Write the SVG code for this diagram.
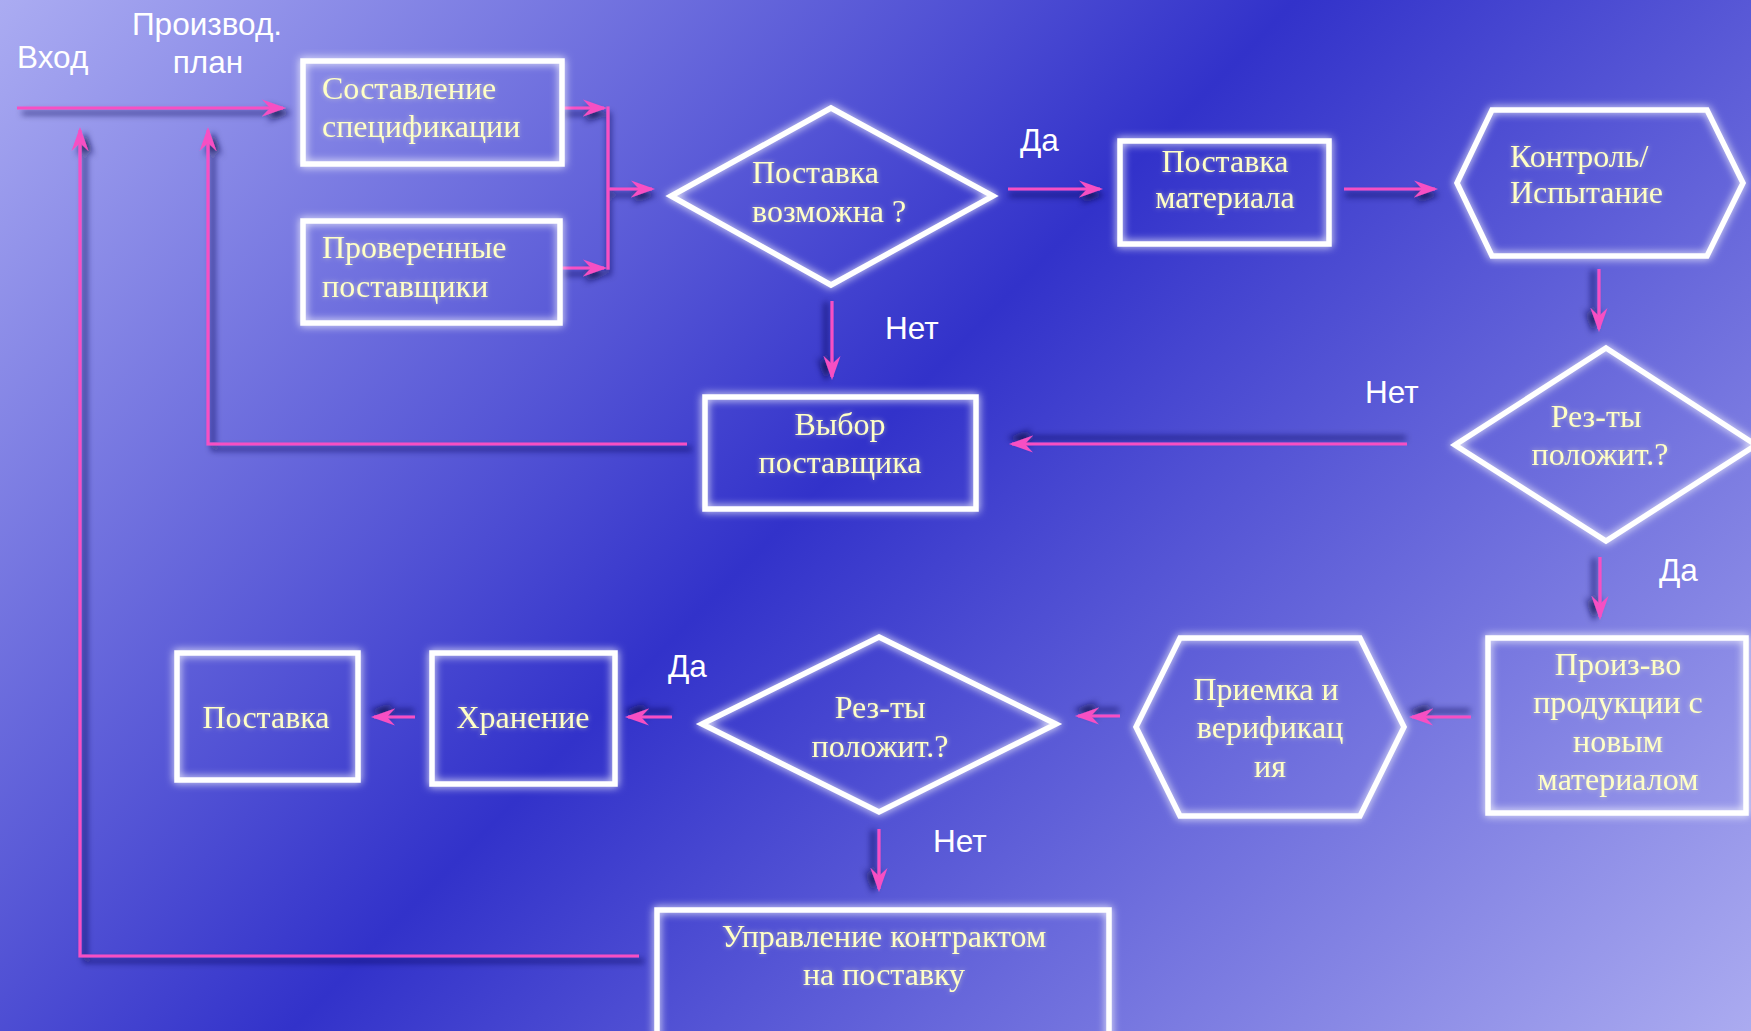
<svg xmlns="http://www.w3.org/2000/svg" width="1751" height="1031" viewBox="0 0 1751 1031">
<defs>
<linearGradient id="bg" gradientUnits="userSpaceOnUse" x1="0" y1="0" x2="1413" y2="1378">
<stop offset="0" stop-color="#ABACF2"/>
<stop offset="0.47" stop-color="#3232CA"/>
<stop offset="1" stop-color="#ABABF0"/>
</linearGradient>
<filter id="glow" filterUnits="userSpaceOnUse" x="0" y="0" width="1751" height="1031">
<feGaussianBlur in="SourceGraphic" stdDeviation="4" result="b"/>
<feMerge><feMergeNode in="b"/><feMergeNode in="SourceGraphic"/></feMerge>
</filter>
<filter id="tglow" filterUnits="userSpaceOnUse" x="0" y="0" width="1751" height="1031">
<feGaussianBlur in="SourceGraphic" stdDeviation="2.5" result="b"/>
<feComponentTransfer in="b" result="c"><feFuncA type="linear" slope="0.5"/></feComponentTransfer>
<feMerge><feMergeNode in="c"/><feMergeNode in="SourceGraphic"/></feMerge>
</filter>
<filter id="shR" filterUnits="userSpaceOnUse" x="0" y="0" width="1751" height="1031">
<feOffset in="SourceAlpha" dx="1" dy="6" result="o"/><feGaussianBlur in="o" stdDeviation="3" result="b"/>
<feFlood flood-color="#12124f" flood-opacity="0.85"/><feComposite in2="b" operator="in" result="s"/>
<feMerge><feMergeNode in="s"/><feMergeNode in="SourceGraphic"/></feMerge>
</filter>
<filter id="shL" filterUnits="userSpaceOnUse" x="0" y="0" width="1751" height="1031">
<feOffset in="SourceAlpha" dx="-1" dy="-6" result="o"/><feGaussianBlur in="o" stdDeviation="3" result="b"/>
<feFlood flood-color="#12124f" flood-opacity="0.85"/><feComposite in2="b" operator="in" result="s"/>
<feMerge><feMergeNode in="s"/><feMergeNode in="SourceGraphic"/></feMerge>
</filter>
<filter id="shD" filterUnits="userSpaceOnUse" x="0" y="0" width="1751" height="1031">
<feOffset in="SourceAlpha" dx="-6" dy="1" result="o"/><feGaussianBlur in="o" stdDeviation="3" result="b"/>
<feFlood flood-color="#12124f" flood-opacity="0.85"/><feComposite in2="b" operator="in" result="s"/>
<feMerge><feMergeNode in="s"/><feMergeNode in="SourceGraphic"/></feMerge>
</filter>
<filter id="shB" filterUnits="userSpaceOnUse" x="0" y="0" width="1751" height="1031">
<feOffset in="SourceAlpha" dx="5" dy="5" result="o"/><feGaussianBlur in="o" stdDeviation="3" result="b"/>
<feFlood flood-color="#12124f" flood-opacity="0.85"/><feComposite in2="b" operator="in" result="s"/>
<feMerge><feMergeNode in="s"/><feMergeNode in="SourceGraphic"/></feMerge>
</filter>
<marker id="arr" viewBox="-26 -10 30 20" refX="0" refY="0" markerWidth="30" markerHeight="20" markerUnits="userSpaceOnUse" orient="auto">
<path d="M3,0 L-21,-8.5 L-13,0 L-21,8.5 Z" fill="#F74FC3"/>
</marker>
<style>
.shape{fill:none;stroke:#FFFFFF;stroke-width:5.5}
.t{font-family:"Liberation Serif","Times New Roman",serif;font-size:32px;fill:#FFFFC6}
.m{text-anchor:middle}
.lbl{font-family:"Liberation Sans",Arial,sans-serif;font-size:31.5px;fill:#FFFFFF}
.c{fill:none;stroke:#F74FC3;stroke-width:3.2}
.a{marker-end:url(#arr)}
</style>
</defs>
<rect x="0" y="0" width="1751" height="1031" fill="url(#bg)"/>

<g id="labels">
<text class="lbl" x="17" y="68">Вход</text>
<text class="lbl m" x="207" y="35">Производ.</text>
<text class="lbl m" x="208" y="73">план</text>
<text class="lbl" x="1020" y="151">Да</text>
<text class="lbl" x="885" y="339">Нет</text>
<text class="lbl" x="1365" y="403">Нет</text>
<text class="lbl" x="1659" y="581">Да</text>
<text class="lbl" x="668" y="677">Да</text>
<text class="lbl" x="933" y="852">Нет</text>
</g>

<g id="connectors">
<path class="c a" filter="url(#shB)" d="M17,108 H283"/>
<path class="c a" filter="url(#shB)" d="M639,956 H80 V130"/>
<path class="c a" filter="url(#shB)" d="M687,444 H208 V130"/>
<g filter="url(#shR)">
<path class="c a" d="M562,108 H604"/>
<path class="c a" d="M562,268 H604"/>
<path class="c" d="M608,106.4 V269.6"/>
<path class="c a" d="M608,189 H652"/>
<path class="c a" d="M1008,189 H1100"/>
<path class="c a" d="M1344,189 H1435"/>
</g>
<g filter="url(#shD)">
<path class="c a" d="M1599,269 V329"/>
<path class="c a" d="M832,301 V377"/>
<path class="c a" d="M1600,557 V617"/>
<path class="c a" d="M879,829 V889"/>
</g>
<g filter="url(#shL)">
<path class="c a" d="M1407,444 H1012"/>
<path class="c a" d="M1471,717 H1412"/>
<path class="c a" d="M1120,716 H1078"/>
<path class="c a" d="M672,717 H628"/>
<path class="c a" d="M415,717 H374"/>
</g>
</g>

<g id="n-spec">
<rect class="shape" filter="url(#glow)" x="303" y="61" width="259" height="103"/>
<g filter="url(#tglow)"><text class="t" x="322" y="99">Составление</text>
<text class="t" x="322" y="137">спецификации</text></g>
</g>
<g id="n-suppliers">
<rect class="shape" filter="url(#glow)" x="303" y="221" width="257" height="102"/>
<g filter="url(#tglow)"><text class="t" x="322" y="258">Проверенные</text>
<text class="t" x="322" y="297">поставщики</text></g>
</g>
<g id="n-possible">
<polygon class="shape" filter="url(#glow)" points="831,108 993,196 831,285 671,196"/>
<g filter="url(#tglow)"><text class="t" x="752" y="183">Поставка</text>
<text class="t" x="752" y="222">возможна ?</text></g>
</g>
<g id="n-material">
<rect class="shape" filter="url(#glow)" x="1120" y="141" width="209" height="103"/>
<g filter="url(#tglow)"><text class="t m" x="1225" y="172">Поставка</text>
<text class="t m" x="1225" y="208">материала</text></g>
</g>
<g id="n-control">
<polygon class="shape" filter="url(#glow)" points="1492,110 1707,110 1743,183 1707,256 1492,256 1457,183"/>
<g filter="url(#tglow)"><text class="t" x="1510" y="167">Контроль/</text>
<text class="t" x="1510" y="203">Испытание</text></g>
</g>
<g id="n-result1">
<polygon class="shape" filter="url(#glow)" points="1606,348 1756,445 1606,541 1455,445"/>
<g filter="url(#tglow)"><text class="t m" x="1596" y="427">Рез-ты</text>
<text class="t m" x="1600" y="465">положит.?</text></g>
</g>
<g id="n-choose">
<rect class="shape" filter="url(#glow)" x="705" y="397" width="271" height="112"/>
<g filter="url(#tglow)"><text class="t m" x="840" y="435">Выбор</text>
<text class="t m" x="840" y="473">поставщика</text></g>
</g>
<g id="n-production">
<rect class="shape" filter="url(#glow)" x="1488" y="638" width="258" height="175"/>
<g filter="url(#tglow)"><text class="t m" x="1618" y="675">Произ-во</text>
<text class="t m" x="1618" y="713">продукции с</text>
<text class="t m" x="1618" y="752">новым</text>
<text class="t m" x="1618" y="790">материалом</text></g>
</g>
<g id="n-acceptance">
<polygon class="shape" filter="url(#glow)" points="1180,638 1360,638 1404,727 1360,816 1180,816 1136,727"/>
<g filter="url(#tglow)"><text class="t m" x="1266" y="700">Приемка и</text>
<text class="t m" x="1270" y="738">верификац</text>
<text class="t m" x="1270" y="777">ия</text></g>
</g>
<g id="n-result2">
<polygon class="shape" filter="url(#glow)" points="879,637 1056,724 879,812 702,724"/>
<g filter="url(#tglow)"><text class="t m" x="880" y="718">Рез-ты</text>
<text class="t m" x="880" y="757">положит.?</text></g>
</g>
<g id="n-storage">
<rect class="shape" filter="url(#glow)" x="432" y="653" width="183" height="131"/>
<g filter="url(#tglow)"><text class="t m" x="523" y="728">Хранение</text></g>
</g>
<g id="n-delivery">
<rect class="shape" filter="url(#glow)" x="177" y="653" width="181" height="127"/>
<g filter="url(#tglow)"><text class="t m" x="266" y="728">Поставка</text></g>
</g>
<g id="n-contract">
<rect class="shape" filter="url(#glow)" x="657" y="910" width="452" height="135"/>
<g filter="url(#tglow)"><text class="t m" x="884" y="947">Управление контрактом</text>
<text class="t m" x="884" y="985">на поставку</text></g>
</g>
</svg>
